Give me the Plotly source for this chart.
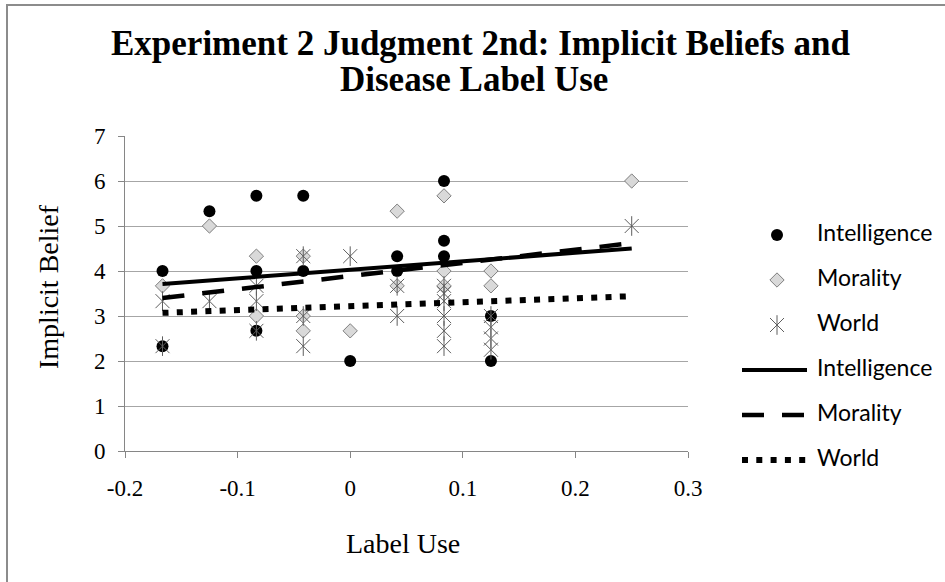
import plotly.graph_objects as go

# ---- data -------------------------------------------------------------
intel_x = [-0.1667, -0.1667, -0.125, -0.0833, -0.0833, -0.0833, -0.0417, -0.0417,
           0.0, 0.0417, 0.0417, 0.0833, 0.0833, 0.0833, 0.125, 0.125]
intel_y = [4.0, 2.33, 5.33, 5.67, 4.0, 2.67, 5.67, 4.0,
           2.0, 4.33, 4.0, 6.0, 4.67, 4.33, 3.0, 2.0]

moral_x = [-0.1667, -0.125, -0.0833, -0.0833, -0.0417, -0.0417, -0.0417, 0.0,
           0.0417, 0.0417, 0.0833, 0.0833, 0.0833, 0.125, 0.125, 0.25]
moral_y = [3.67, 5.0, 4.33, 3.0, 4.33, 3.0, 2.67, 2.67,
           5.33, 3.67, 5.67, 4.0, 3.67, 4.0, 3.67, 6.0]

world_x = [-0.1667, -0.1667, -0.125, -0.0833, -0.0833, -0.0833, -0.0417, -0.0417, -0.0417,
           0.0, 0.0417, 0.0417, 0.0833, 0.0833, 0.0833, 0.0833, 0.0833, 0.0833,
           0.125, 0.125, 0.125, 0.125, 0.25]
world_y = [3.33, 2.33, 3.33, 3.67, 3.33, 2.67, 4.33, 3.0, 2.33,
           4.33, 3.67, 3.0, 3.67, 3.5, 3.33, 3.0, 2.67, 2.33,
           3.0, 2.75, 2.5, 2.25, 5.0]

# linear trendline end points (fitted values at the data extremes)
trend_x = [-0.1667, 0.25]
intel_trend = [3.71, 4.50]
moral_trend = [3.40, 4.62]
world_trend = [3.07, 3.44]

x_ticks = [-0.2, -0.1, 0.0, 0.1, 0.2, 0.3]
x_tick_text = ["-0.2", "-0.1", "0", "0.1", "0.2", "0.3"]
y_ticks = [0, 1, 2, 3, 4, 5, 6, 7]
y_grid = [1, 2, 3, 4, 5, 6]

legend_labels = ["Intelligence", "Morality", "World", "Intelligence", "Morality", "World"]

title_lines = ["Experiment 2 Judgment 2nd: Implicit Beliefs and", "Disease Label Use"]

# ---- geometry (pixels) ------------------------------------------------
W, H = 945, 582
PL, PR, PT, PB = 125, 688, 136, 451

SERIF = "Liberation Serif, Times New Roman, serif"
SANS = "Lato, Calibri, sans-serif"
AXIS_GRAY = "#868686"
GRID_GRAY = "#a6a6a6"

DOT = dict(symbol="circle", size=12, color="black", line=dict(width=0))
DIAMOND = dict(symbol="diamond", size=11, color="#d9d9d9", line=dict(color="#7f7f7f", width=1))
STAR_X = dict(symbol="x-thin-open", size=14, color="#5e5e5e", line=dict(color="#5e5e5e", width=1))
STAR_V = dict(symbol="line-ns-open", size=14, color="#5e5e5e", line=dict(color="#5e5e5e", width=1))

SOLID = dict(color="black", width=4)
DASHED = dict(color="black", width=4.5, dash="22px,18px")
DOTTED = dict(color="black", width=6, dash="6px,8.3px")

fig = go.Figure()

# scatter series
fig.add_trace(go.Scatter(x=intel_x, y=intel_y, mode="markers", marker=DOT, name="Intelligence"))
fig.add_trace(go.Scatter(x=moral_x, y=moral_y, mode="markers", marker=DIAMOND, name="Morality"))
fig.add_trace(go.Scatter(x=world_x, y=world_y, mode="markers", marker=STAR_X, name="World"))
fig.add_trace(go.Scatter(x=world_x, y=world_y, mode="markers", marker=STAR_V, name="World",
                         hoverinfo="skip"))

# trendlines
fig.add_trace(go.Scatter(x=trend_x, y=intel_trend, mode="lines", line=SOLID, name="Intelligence"))
fig.add_trace(go.Scatter(x=trend_x, y=moral_trend, mode="lines", line=DASHED, name="Morality"))
fig.add_trace(go.Scatter(x=trend_x, y=world_trend, mode="lines", line=DOTTED, name="World"))

# ---- legend, drawn on a full-figure pixel-unit overlay ----------------
LEG_MARK_X = 777
LEG_LINE_X = [742, 807]
LEG_TEXT_X = 817
LEG_ROW0 = 235
LEG_STEP = 45
rows = [LEG_ROW0 + i * LEG_STEP for i in range(len(legend_labels))]

leg = dict(xaxis="x2", yaxis="y2", showlegend=False, hoverinfo="skip", cliponaxis=False)
fig.add_trace(go.Scatter(x=[LEG_MARK_X], y=[rows[0]], mode="markers", marker=DOT, **leg))
fig.add_trace(go.Scatter(x=[LEG_MARK_X], y=[rows[1]], mode="markers", marker=DIAMOND, **leg))
fig.add_trace(go.Scatter(x=[LEG_MARK_X], y=[rows[2]], mode="markers", marker=STAR_X, **leg))
fig.add_trace(go.Scatter(x=[LEG_MARK_X], y=[rows[2]], mode="markers", marker=STAR_V, **leg))
fig.add_trace(go.Scatter(x=LEG_LINE_X, y=[rows[3]] * 2, mode="lines", line=SOLID, **leg))
fig.add_trace(go.Scatter(x=LEG_LINE_X, y=[rows[4]] * 2, mode="lines", line=DASHED, **leg))
fig.add_trace(go.Scatter(x=LEG_LINE_X, y=[rows[5]] * 2, mode="lines", line=DOTTED, **leg))
fig.add_trace(go.Scatter(x=[LEG_TEXT_X] * len(rows), y=rows, mode="text", text=legend_labels,
                         textposition="middle right",
                         textfont=dict(family=SANS, size=23, color="black"), **leg))
# fragment of a panel letter peeking above the frame
fig.add_trace(go.Scatter(x=[25], y=[-4], mode="text", text=[")"],
                         textfont=dict(family=SERIF, size=22, color="black"), **leg))

annotations = []
# title, two centred lines
for text, cx, cy in zip(title_lines, [480, 474], [44, 80]):
    annotations.append(dict(x=cx / W, y=1 - cy / H, xref="paper", yref="paper", text=text,
                            showarrow=False, xanchor="center", yanchor="middle",
                            font=dict(family=SERIF, size=35, color="black", weight="bold")))

# axis titles
annotations.append(dict(x=403 / W, y=1 - 543 / H, xref="paper", yref="paper", text="Label Use",
                        showarrow=False, xanchor="center", yanchor="middle",
                        font=dict(family=SERIF, size=28, color="black")))
annotations.append(dict(x=48 / W, y=1 - 287 / H, xref="paper", yref="paper", text="Implicit Belief",
                        showarrow=False, xanchor="center", yanchor="middle", textangle=-90,
                        font=dict(family=SERIF, size=28, color="black")))

fig.update_layout(
    template="none",
    width=W, height=H,
    margin=dict(l=0, r=0, t=0, b=0, pad=0),
    paper_bgcolor="white", plot_bgcolor="rgba(0,0,0,0)",
    showlegend=False,
    xaxis=dict(domain=[PL / W, PR / W], range=[-0.2, 0.3], tickvals=x_ticks, ticktext=x_tick_text,
               showgrid=False, zeroline=False, showline=True, linecolor=AXIS_GRAY, linewidth=1,
               ticks="outside", ticklen=6, tickcolor=AXIS_GRAY, automargin=False,
               tickfont=dict(family=SERIF, size=23, color="black"), ticklabelstandoff=10),
    yaxis=dict(domain=[1 - PB / H, 1 - PT / H], range=[0, 7], tickvals=y_ticks,
               showgrid=False, zeroline=False, showline=True, linecolor=AXIS_GRAY, linewidth=1,
               ticks="outside", ticklen=6, tickcolor=AXIS_GRAY, automargin=False,
               tickfont=dict(family=SERIF, size=23, color="black"), ticklabelstandoff=8),
    yaxis3=dict(overlaying="y", anchor="x", range=[0, 7], tickvals=y_grid, showgrid=True,
                gridcolor=GRID_GRAY, gridwidth=1, showticklabels=False, ticks="",
                showline=False, zeroline=False, automargin=False),
    xaxis2=dict(domain=[0.0, 1.0], range=[0, W], visible=False, fixedrange=True, anchor="y2",
                automargin=False),
    yaxis2=dict(domain=[0.0, 1.0], range=[H, 0], visible=False, fixedrange=True, anchor="x2",
                automargin=False),
    annotations=annotations,
    shapes=[dict(type="rect", xref="paper", yref="paper",
                 x0=7 / W, x1=1.05, y0=-0.05, y1=1 - 5 / H,
                 line=dict(color="#8c8c8c", width=2), fillcolor="rgba(0,0,0,0)", layer="below")],
)

# gridline overlay axis needs a (blank) trace to be laid out
fig.add_trace(go.Scatter(x=[None], y=[None], xaxis="x", yaxis="y3", showlegend=False, hoverinfo="skip"))

fig.write_html("out.html", config={"displayModeBar": False})
